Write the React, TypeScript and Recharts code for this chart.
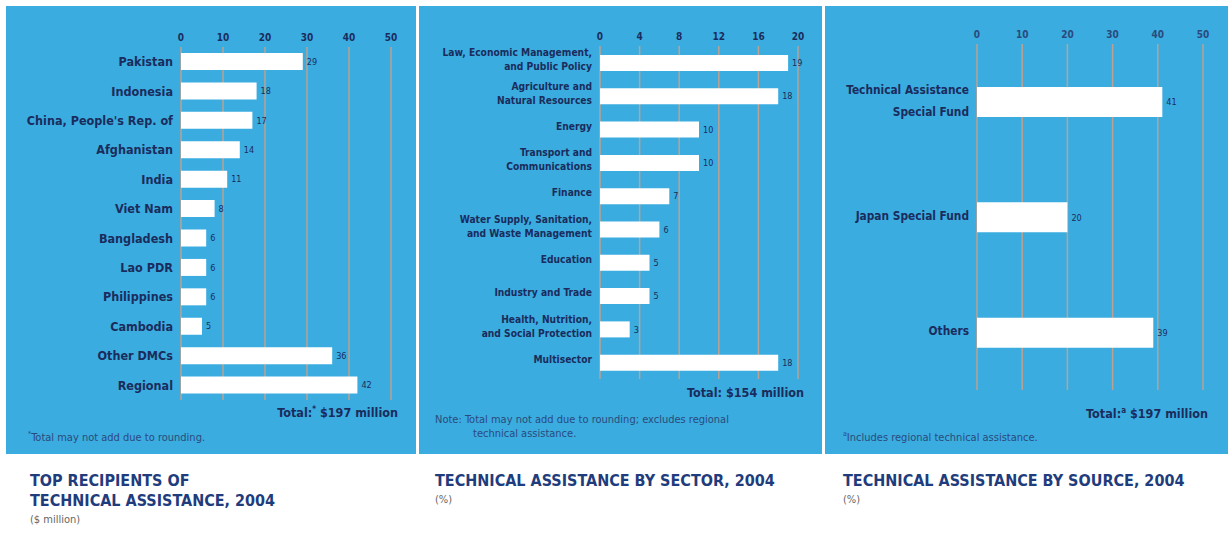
import React from "react";
import { BarChart, Bar, XAxis, YAxis, CartesianGrid, LabelList } from "recharts";

const recipientNames = [
  "Pakistan", "Indonesia", "China, People's Rep. of", "Afghanistan", "India", "Viet Nam",
  "Bangladesh", "Lao PDR", "Philippines", "Cambodia", "Other DMCs", "Regional",
];
const recipientValues = [29, 18, 17, 14, 11, 8, 6, 6, 6, 5, 36, 42];
const recipientTicks = [0, 10, 20, 30, 40, 50];

const sectorNames = [
  "Law, Economic Management,\nand Public Policy",
  "Agriculture and\nNatural Resources",
  "Energy",
  "Transport and\nCommunications",
  "Finance",
  "Water Supply, Sanitation,\nand Waste Management",
  "Education",
  "Industry and Trade",
  "Health, Nutrition,\nand Social Protection",
  "Multisector",
];
const sectorValues = [19, 18, 10, 10, 7, 6, 5, 5, 3, 18];
const sectorTicks = [0, 4, 8, 12, 16, 20];

const sourceNames = ["Technical Assistance\nSpecial Fund", "Japan Special Fund", "Others"];
const sourceValues = [41, 20, 39];
const sourceTicks = [0, 10, 20, 30, 40, 50];

const recipientData = recipientNames.map((name, i) => ({ name, value: recipientValues[i] }));
const sectorData = sectorNames.map((name, i) => ({ name, value: sectorValues[i] }));
const sourceData = sourceNames.map((name, i) => ({ name, value: sourceValues[i] }));

const BLUE = "#3aace0";
const NAVY = "#1b2c5c";
const GRID = "#bca292";
const FONT = "'Liberation Sans Narrow', 'DejaVu Sans Condensed', 'Roboto', sans-serif";

const MultiTick = (props: any) => {
  const { x, y, payload, fontSize, lineHeight, shift } = props;
  const lines = String(payload.value).split("\n");
  const startY = y - ((lines.length - 1) * lineHeight) / 2 + (shift || 0);
  return (
    <text x={x} y={startY} textAnchor="end" fill={NAVY} fontSize={fontSize} fontWeight="bold" fontFamily={FONT}>
      {lines.map((l, i) => (
        <tspan key={i} x={x} dy={i === 0 ? "0.35em" : lineHeight}>
          {l}
        </tspan>
      ))}
    </text>
  );
};

type PanelProps = {
  data: any[];
  width: number;
  height: number;
  margin: any;
  yWidth: number;
  ticks: number[];
  barSize: number;
  labelSize: number;
  lineHeight: number;
  shift: number;
  tickColor: string;
};

const Panel = (p: PanelProps) => (
  <BarChart width={p.width} height={p.height} data={p.data} layout="vertical" margin={p.margin}>
    <CartesianGrid horizontal={false} stroke={GRID} strokeWidth={1.5} />
    <XAxis
      type="number"
      orientation="top"
      domain={[0, p.ticks[p.ticks.length - 1]]}
      ticks={p.ticks}
      height={20}
      axisLine={false}
      tickLine={false}
      tickSize={4}
      tick={{ fill: p.tickColor, fontSize: 10, fontWeight: "bold", fontFamily: FONT }}
      interval={0}
    />
    <YAxis
      type="category"
      dataKey="name"
      width={p.yWidth}
      axisLine={false}
      tickLine={false}
      interval={0}
      tick={(tp: any) => (
        <MultiTick {...tp} fontSize={p.labelSize} lineHeight={p.lineHeight} shift={p.shift} />
      )}
    />
    <Bar dataKey="value" fill="#ffffff" barSize={p.barSize} isAnimationActive={false}>
      <LabelList dataKey="value" position="right" offset={4} fill={NAVY} fontSize={9} fontFamily={FONT} />
    </Bar>
  </BarChart>
);

const abs = (left: number, top: number, extra: any = {}) => ({ position: "absolute" as const, left, top, ...extra });

export default function App() {
  return (
    <div style={{ position: "absolute", left: 0, top: 0, width: 1228, height: 537, background: "#ffffff", fontFamily: FONT, overflow: "hidden" }}>
      {/* Panel 1 */}
      <div style={abs(6, 6, { width: 410, height: 448, background: BLUE })}>
        <Panel
          data={recipientData}
          width={410}
          height={448}
          margin={{ top: 21, right: 25, bottom: 54, left: 0 }}
          yWidth={175}
          ticks={recipientTicks}
          barSize={17}
          labelSize={12.5}
          lineHeight={14}
          shift={0}
          tickColor={NAVY}
        />
        <div style={abs(0, 399, { width: 392, textAlign: "right", fontSize: 12.5, fontWeight: "bold", color: NAVY })}>
          Total:<sup style={{ fontSize: 8 }}>*</sup> $197 million
        </div>
        <div style={abs(22, 424, { fontSize: 11, color: "#2b4a7c" })}>
          <sup style={{ fontSize: 7 }}>*</sup>Total may not add due to rounding.
        </div>
      </div>

      {/* Panel 2 */}
      <div style={abs(419, 6, { width: 403, height: 448, background: BLUE })}>
        <Panel
          data={sectorData}
          width={403}
          height={448}
          margin={{ top: 20, right: 24, bottom: 75, left: 0 }}
          yWidth={181}
          ticks={sectorTicks}
          barSize={16}
          labelSize={10.2}
          lineHeight={14}
          shift={-3}
          tickColor={NAVY}
        />
        <div style={abs(0, 379, { width: 385, textAlign: "right", fontSize: 12.5, fontWeight: "bold", color: NAVY })}>
          Total: $154 million
        </div>
        <div style={abs(16, 407, { width: 380, fontSize: 11, color: "#2b4a7c", lineHeight: "14px" })}>
          Note: Total may not add due to rounding; excludes regional
          <br />
          <span style={{ paddingLeft: 38 }}>technical assistance.</span>
        </div>
      </div>

      {/* Panel 3 */}
      <div style={abs(825, 6, { width: 403, height: 448, background: BLUE })}>
        <Panel
          data={sourceData}
          width={403}
          height={448}
          margin={{ top: 18, right: 25, bottom: 64, left: 0 }}
          yWidth={152}
          ticks={sourceTicks}
          barSize={30}
          labelSize={11.8}
          lineHeight={22}
          shift={-1}
          tickColor="#2b4a7c"
        />
        <div style={abs(0, 400, { width: 383, textAlign: "right", fontSize: 12.5, fontWeight: "bold", color: NAVY })}>
          Total:<sup style={{ fontSize: 8 }}>a</sup> $197 million
        </div>
        <div style={abs(18, 424, { fontSize: 11, color: "#2b4a7c" })}>
          <sup style={{ fontSize: 7 }}>a</sup>Includes regional technical assistance.
        </div>
      </div>

      {/* Titles */}
      <div style={abs(30, 471, { fontSize: 16, fontWeight: "bold", color: "#1f3c7c", lineHeight: "20px" })}>
        TOP RECIPIENTS OF
        <br />
        TECHNICAL ASSISTANCE, 2004
      </div>
      <div style={abs(30, 513, { fontSize: 11, color: "#666666" })}>($ million)</div>

      <div style={abs(435, 471, { fontSize: 16, fontWeight: "bold", color: "#1f3c7c", lineHeight: "20px" })}>
        TECHNICAL ASSISTANCE BY SECTOR, 2004
      </div>
      <div style={abs(435, 493, { fontSize: 11, color: "#666666" })}>(%)</div>

      <div style={abs(843, 471, { fontSize: 16, fontWeight: "bold", color: "#1f3c7c", lineHeight: "20px" })}>
        TECHNICAL ASSISTANCE BY SOURCE, 2004
      </div>
      <div style={abs(843, 493, { fontSize: 11, color: "#666666" })}>(%)</div>
    </div>
  );
}
